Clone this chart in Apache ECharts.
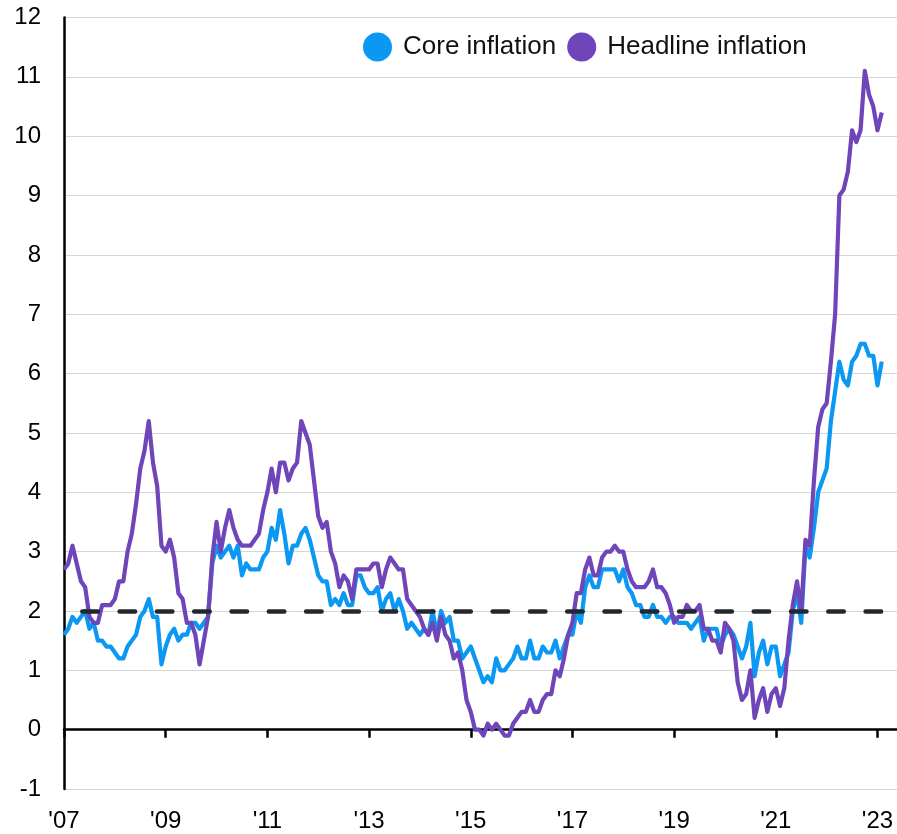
<!DOCTYPE html>
<html>
<head>
<meta charset="utf-8">
<script src="https://cdn.jsdelivr.net/npm/echarts@6/dist/echarts.min.js"></script>
<style>
  html, body { margin: 0; padding: 0; background: #ffffff; }
  #chart { width: 897px; height: 834px; }
</style>
</head>
<body>
<div id="chart"></div>
<script>
// Monthly series, Jan 2007 – Feb 2023 (annual % change)
const seriesNames = ['Core inflation', 'Headline inflation'];

const coreInflation = [
  1.6, 1.7, 1.9, 1.8, 1.9, 2.0, 1.7, 1.8, 1.5, 1.5, 1.4, 1.4,   // 2007
  1.3, 1.2, 1.2, 1.4, 1.5, 1.6, 1.9, 2.0, 2.2, 1.9, 1.9, 1.1,   // 2008
  1.4, 1.6, 1.7, 1.5, 1.6, 1.6, 1.8, 1.8, 1.7, 1.8, 1.9, 2.8,   // 2009
  3.1, 2.9, 3.0, 3.1, 2.9, 3.1, 2.6, 2.8, 2.7, 2.7, 2.7, 2.9,   // 2010
  3.0, 3.4, 3.2, 3.7, 3.3, 2.8, 3.1, 3.1, 3.3, 3.4, 3.2, 2.9,   // 2011
  2.6, 2.5, 2.5, 2.1, 2.2, 2.1, 2.3, 2.1, 2.1, 2.6, 2.6, 2.4,   // 2012
  2.3, 2.3, 2.4, 2.0, 2.2, 2.3, 2.0, 2.2, 2.0, 1.7, 1.8, 1.7,   // 2013
  1.6, 1.7, 1.6, 2.0, 1.6, 2.0, 1.8, 1.9, 1.5, 1.5, 1.2, 1.3,   // 2014
  1.4, 1.2, 1.0, 0.8, 0.9, 0.8, 1.2, 1.0, 1.0, 1.1, 1.2, 1.4,   // 2015
  1.2, 1.2, 1.5, 1.2, 1.2, 1.4, 1.3, 1.3, 1.5, 1.2, 1.4, 1.6,   // 2016
  1.6, 2.0, 1.8, 2.4, 2.6, 2.4, 2.4, 2.7, 2.7, 2.7, 2.7, 2.5,   // 2017
  2.7, 2.4, 2.3, 2.1, 2.1, 1.9, 1.9, 2.1, 1.9, 1.9, 1.8, 1.9,   // 2018
  1.9, 1.8, 1.8, 1.8, 1.7, 1.8, 1.9, 1.5, 1.7, 1.7, 1.7, 1.4,   // 2019
  1.6, 1.7, 1.6, 1.4, 1.2, 1.4, 1.8, 0.9, 1.3, 1.5, 1.1, 1.4,   // 2020
  1.4, 0.9, 1.1, 1.3, 2.0, 2.3, 1.8, 3.1, 2.9, 3.4, 4.0, 4.2,   // 2021
  4.4, 5.2, 5.7, 6.2, 5.9, 5.8, 6.2, 6.3, 6.5, 6.5, 6.3, 6.3,   // 2022
  5.8, 6.2                                                      // 2023
];

const headlineInflation = [
  2.7, 2.8, 3.1, 2.8, 2.5, 2.4, 1.9, 1.8, 1.8, 2.1, 2.1, 2.1,   // 2007
  2.2, 2.5, 2.5, 3.0, 3.3, 3.8, 4.4, 4.7, 5.2, 4.5, 4.1, 3.1,   // 2008
  3.0, 3.2, 2.9, 2.3, 2.2, 1.8, 1.8, 1.6, 1.1, 1.5, 1.9, 2.9,   // 2009
  3.5, 3.0, 3.4, 3.7, 3.4, 3.2, 3.1, 3.1, 3.1, 3.2, 3.3, 3.7,   // 2010
  4.0, 4.4, 4.0, 4.5, 4.5, 4.2, 4.4, 4.5, 5.2, 5.0, 4.8, 4.2,   // 2011
  3.6, 3.4, 3.5, 3.0, 2.8, 2.4, 2.6, 2.5, 2.2, 2.7, 2.7, 2.7,   // 2012
  2.7, 2.8, 2.8, 2.4, 2.7, 2.9, 2.8, 2.7, 2.7, 2.2, 2.1, 2.0,   // 2013
  1.9, 1.7, 1.6, 1.8, 1.5, 1.9, 1.6, 1.5, 1.2, 1.3, 1.0, 0.5,   // 2014
  0.3, 0.0, 0.0, -0.1, 0.1, 0.0, 0.1, 0.0, -0.1, -0.1, 0.1, 0.2, // 2015
  0.3, 0.3, 0.5, 0.3, 0.3, 0.5, 0.6, 0.6, 1.0, 0.9, 1.2, 1.6,   // 2016
  1.8, 2.3, 2.3, 2.7, 2.9, 2.6, 2.6, 2.9, 3.0, 3.0, 3.1, 3.0,   // 2017
  3.0, 2.7, 2.5, 2.4, 2.4, 2.4, 2.5, 2.7, 2.4, 2.4, 2.3, 2.1,   // 2018
  1.8, 1.9, 1.9, 2.1, 2.0, 2.0, 2.1, 1.7, 1.7, 1.5, 1.5, 1.3,   // 2019
  1.8, 1.7, 1.5, 0.8, 0.5, 0.6, 1.0, 0.2, 0.5, 0.7, 0.3, 0.6,   // 2020
  0.7, 0.4, 0.7, 1.5, 2.1, 2.5, 2.0, 3.2, 3.1, 4.2, 5.1, 5.4,   // 2021
  5.5, 6.2, 7.0, 9.0, 9.1, 9.4, 10.1, 9.9, 10.1, 11.1, 10.7, 10.5, // 2022
  10.1, 10.4                                                    // 2023
];

const inflationTarget = 2;

// X tick labels: January of every other year, starting Jan 2007 (month index 0)
const xTickLabels = ["'07", "'09", "'11", "'13", "'15", "'17", "'19", "'21", "'23"];
const monthsPerTick = 24;

// Y axis range
const yMin = -1, yMax = 12, yStep = 1;

const FONT = '"Liberation Sans", Arial, Helvetica, sans-serif';
const CORE_COLOR = '#0a98f2';
const HEAD_COLOR = '#6f45ba';
const TARGET_COLOR = '#23282c';

const xTickPositions = xTickLabels.map((_, k) => k * monthsPerTick);
const toPairs = arr => arr.map((v, i) => [i, v]);

const chart = echarts.init(document.getElementById('chart'), null, { renderer: 'canvas' });

chart.setOption({
  animation: false,
  backgroundColor: '#ffffff',
  textStyle: { fontFamily: FONT },
  grid: { left: 64, right: 0, top: 17.5, bottom: 45, containLabel: false, outerBoundsMode: 'none' },
  legend: {
    data: seriesNames,
    left: 363,
    top: 32.5,
    padding: 0,
    icon: 'circle',
    itemWidth: 29,
    itemHeight: 29,
    itemGap: 11,
    textStyle: { fontFamily: FONT, fontSize: 26, color: '#111111', padding: [0, 0, 0, 6] }
  },
  xAxis: {
    type: 'value',
    min: 0,
    max: 196.6,
    axisLine: { show: true, onZero: true, lineStyle: { color: '#000000', width: 2.5 } },
    axisTick: {
      show: true,
      customValues: xTickPositions,
      length: 8,
      lineStyle: { color: '#000000', width: 2.5 }
    },
    axisLabel: {
      customValues: xTickPositions,
      formatter: v => xTickLabels[Math.round(v / monthsPerTick)],
      fontFamily: FONT,
      fontSize: 24,
      color: '#000000',
      margin: 20
    },
    splitLine: { show: false }
  },
  yAxis: {
    type: 'value',
    min: yMin,
    max: yMax,
    interval: yStep,
    axisLine: { show: true, lineStyle: { color: '#000000', width: 2.5 } },
    axisTick: { show: false },
    axisLabel: { fontFamily: FONT, fontSize: 24, color: '#000000', margin: 23 },
    splitLine: { show: true, lineStyle: { color: '#d6d6d6', width: 1.2 } }
  },
  series: [
    {
      name: seriesNames[0],
      type: 'line',
      data: toPairs(coreInflation),
      showSymbol: false,
      symbol: 'none',
      color: CORE_COLOR,
      lineStyle: { color: CORE_COLOR, width: 4.2, join: 'round' },
      z: 2
    },
    {
      name: seriesNames[1],
      type: 'line',
      data: toPairs(headlineInflation),
      showSymbol: false,
      symbol: 'none',
      color: HEAD_COLOR,
      lineStyle: { color: HEAD_COLOR, width: 4.2, join: 'round' },
      z: 3,
      markLine: {
        silent: true,
        symbol: ['none', 'none'],
        label: { show: false },
        lineStyle: {
          color: TARGET_COLOR,
          width: 4.5,
          type: [15.5, 21.8],
          dashOffset: 19,
          cap: 'round'
        },
        data: [[
          { coord: [0, inflationTarget] },
          { coord: [headlineInflation.length - 1, inflationTarget] }
        ]]
      }
    }
  ]
});
</script>
</body>
</html>
